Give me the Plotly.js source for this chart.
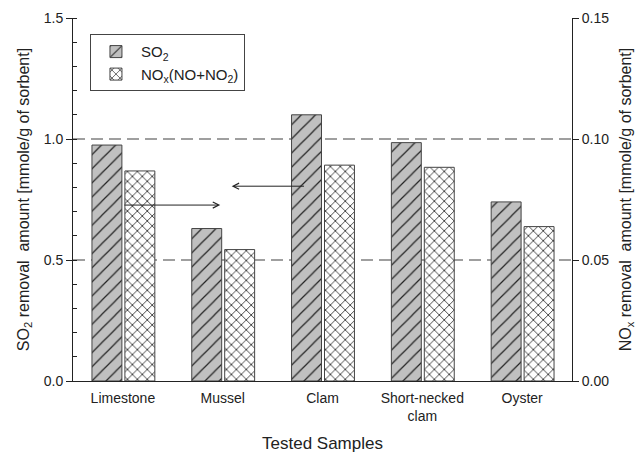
<!DOCTYPE html>
<html>
<head>
<meta charset="utf-8">
<script src="https://cdn.plot.ly/plotly-3.0.1.min.js"></script>
<style>html,body{margin:0;padding:0;background:#fff;}#chart{width:640px;height:454px;}</style>
</head>
<body>
<div id="chart"></div>
<script>
const categories = ["Limestone", "Mussel", "Clam", "Short-necked<br>clam", "Oyster"];
const so2Values = [0.975, 0.63, 1.10, 0.985, 0.74];
const noxValues = [0.0868, 0.0543, 0.0892, 0.0883, 0.0638];
const refLines = [0.5, 1.0];

const font = "Liberation Sans, Arial, sans-serif";
const ink = "#222";

const traces = [
  {
    type: "bar", name: "SO<sub>2</sub>", x: categories, y: so2Values,
    xaxis: "x", yaxis: "y", width: 0.3, offset: -0.31,
    marker: {color: "#c0c0c0", line: {color: "#444", width: 1},
      pattern: {shape: "/", bgcolor: "#c0c0c0", fgcolor: "#222", size: 10, solidity: 0.12}}
  },
  {
    type: "bar", name: "NO<sub>x</sub>(NO+NO<sub>2</sub>)", x: categories, y: noxValues,
    xaxis: "x", yaxis: "y2", width: 0.3, offset: 0.02,
    marker: {color: "#ffffff", line: {color: "#444", width: 1},
      pattern: {shape: "x", bgcolor: "#ffffff", fgcolor: "#222", size: 7, solidity: 0.22}}
  }
];

const shapes = refLines.map(v => ({
  type: "line", xref: "paper", x0: 0, x1: 1, yref: "y", y0: v, y1: v,
  line: {color: "#808080", width: 1.5, dash: "12px,6px"}, layer: "below"
}));

const layout = {
  width: 640, height: 454,
  margin: {l: 73, r: 68, t: 18, b: 73},
  paper_bgcolor: "#fff", plot_bgcolor: "#fff",
  font: {family: font, color: ink, size: 14},
  showlegend: true,
  legend: {x: 0.034, y: 0.955, xanchor: "left", yanchor: "top",
    bordercolor: "#444", borderwidth: 1, bgcolor: "#fff",
    font: {family: font, size: 15, color: ink}, tracegroupgap: 4,
    itemwidth: 40},
  xaxis: {
    range: [-0.5, 4.5], showline: true, linecolor: "#222", linewidth: 1,
    ticks: "", showgrid: false, zeroline: false, ticklabelstandoff: 4,
    tickfont: {size: 14, family: font, color: ink},
    title: {text: "Tested Samples", font: {size: 17, family: font, color: ink}, standoff: 14}
  },
  yaxis: {
    range: [0, 1.5], dtick: 0.5, tickformat: ".1f",
    showline: true, linecolor: "#222", linewidth: 1,
    ticks: "outside", ticklen: 6, tickcolor: "#222",
    minor: {dtick: 0.1, ticks: "inside", ticklen: 4, tickcolor: "#222", showgrid: false},
    showgrid: false, zeroline: false,
    tickfont: {size: 14, family: font, color: ink},
    title: {text: "SO<sub>2</sub> removal  amount [mmole/g of sorbent]", font: {size: 16, family: font, color: ink}, standoff: 10}
  },
  yaxis2: {
    range: [0, 0.15], dtick: 0.05, tickformat: ".2f",
    overlaying: "y", side: "right", anchor: "x",
    showline: true, linecolor: "#222", linewidth: 1,
    ticks: "outside", ticklen: 6, tickcolor: "#222",
    showgrid: false, zeroline: false,
    tickfont: {size: 14, family: font, color: ink},
    title: {text: "NO<sub>x</sub> removal  amount [mmole/g of sorbent]", font: {size: 16, family: font, color: ink}, standoff: 11}
  },
  shapes: shapes,
  annotations: [
    {xref: "x", yref: "y", x: 1.09, y: 0.805, ax: 1.83, ay: 0.805, axref: "x", ayref: "y",
     text: "", showarrow: true, arrowhead: 5, arrowsize: 1.2, arrowwidth: 1, arrowcolor: "#222"},
    {xref: "x", yref: "y", x: 0.975, y: 0.727, ax: 0.0, ay: 0.727, axref: "x", ayref: "y",
     text: "", showarrow: true, arrowhead: 5, arrowsize: 1.2, arrowwidth: 1, arrowcolor: "#222"}
  ],
  bargap: 0.36
};

Plotly.newPlot("chart", traces, layout, {displayModeBar: false, staticPlot: true});
</script>
</body>
</html>
